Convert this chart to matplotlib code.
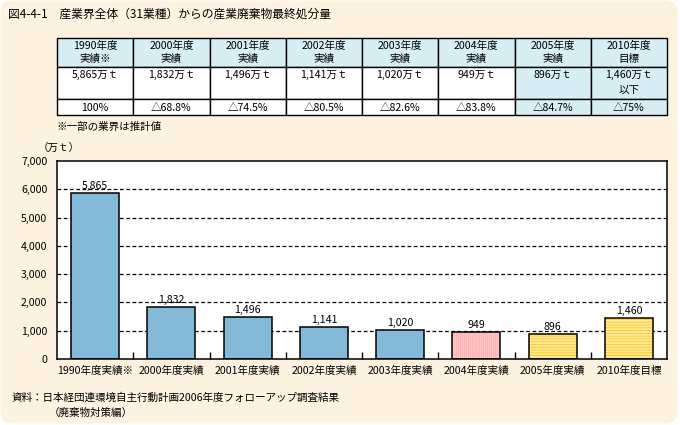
import matplotlib
matplotlib.use("Agg")
import matplotlib.pyplot as plt
from matplotlib.patches import FancyBboxPatch, Rectangle
from matplotlib.ticker import FuncFormatter, MultipleLocator

plt.rcParams['font.family'] = ['Noto Sans CJK JP', 'DejaVu Sans']
plt.rcParams['hatch.linewidth'] = 1.3

# ---- data ----
categories = ['1990年度実績※', '2000年度実績', '2001年度実績', '2002年度実績',
              '2003年度実績', '2004年度実績', '2005年度実績', '2010年度目標']
values = [5865, 1832, 1496, 1141, 1020, 949, 896, 1460]
head_year = ['1990年度', '2000年度', '2001年度', '2002年度', '2003年度',
             '2004年度', '2005年度', '2010年度']
head_kind = ['実績※', '実績', '実績', '実績', '実績', '実績', '実績', '目標']
value_suffix = ['', '', '', '', '', '', '', '以下']
pct_labels = ['100%', '△68.8%', '△74.5%', '△80.5%', '△82.6%', '△83.8%', '△84.7%', '△75%']
styles = ['blue', 'blue', 'blue', 'blue', 'blue', 'pink', 'yellow', 'yellow']

W, H = 680, 425
fig = plt.figure(figsize=(W / 100, H / 100), dpi=100)
fig.patch.set_facecolor('white')

# background axes in pixel coordinates (y downward)
bg = fig.add_axes([0, 0, 1, 1])
bg.set_xlim(0, W)
bg.set_ylim(H, 0)
bg.axis('off')
bg.add_patch(FancyBboxPatch((0.5, 0.5), W - 3, H - 2,
                            boxstyle="round,pad=0,rounding_size=12",
                            facecolor='#FDF1E0', edgecolor='none'))

TXT = 7.6
bg.text(8, 14, '図4-4-1　産業界全体（31業種）からの産業廃棄物最終処分量',
        fontsize=8.5, va='center', ha='left')

# ---- table ----
tx0, tx1 = 57, 667
ty = [38, 67, 99, 115]
cw = (tx1 - tx0) / len(head_year)
for i in range(len(head_year)):
    x = tx0 + i * cw
    hl = i >= 6
    bg.add_patch(Rectangle((x, ty[0]), cw, ty[1] - ty[0], facecolor='#D8EEF5', edgecolor='black', lw=1))
    for r in (1, 2):
        bg.add_patch(Rectangle((x, ty[r]), cw, ty[r + 1] - ty[r],
                               facecolor='#D8EEF5' if hl else 'white', edgecolor='black', lw=1))
    cx = x + cw / 2
    bg.text(cx, 46, head_year[i], fontsize=TXT, ha='center', va='center')
    bg.text(cx, 59, head_kind[i], fontsize=TXT, ha='center', va='center')
    bg.text(cx, 75, f'{values[i]:,}万ｔ', fontsize=TXT, ha='center', va='center')
    if value_suffix[i]:
        bg.text(cx, 90, value_suffix[i], fontsize=TXT, ha='center', va='center')
    bg.text(cx, 107.5, pct_labels[i], fontsize=TXT, ha='center', va='center')

bg.text(57, 127, '※一部の業界は推計値', fontsize=TXT, ha='left', va='center')
bg.text(38, 148, '（万ｔ）', fontsize=TXT, ha='left', va='center')
bg.text(12, 398, '資料：日本経団連環境自主行動計画2006年度フォローアップ調査結果',
        fontsize=TXT, ha='left', va='center')
bg.text(49, 413, '（廃棄物対策編）', fontsize=TXT, ha='left', va='center')

# ---- chart ----
ax = fig.add_axes([57 / W, 1 - 359 / H, (667 - 57) / W, (359 - 161) / H])
ax.set_facecolor('white')
xs = list(range(len(values)))
bw = 0.63
face = {'blue': '#82BAD8', 'pink': '#FF8A8A', 'yellow': '#FFCA30'}
hatch = {'blue': None, 'pink': '|' * 8, 'yellow': '-' * 6}
hcol = {'blue': 'none', 'pink': '#FFC4C4', 'yellow': '#FFEC9A'}
for x, v, s in zip(xs, values, styles):
    ax.bar(x, v, width=bw, color=face[s], edgecolor=hcol[s], hatch=hatch[s], lw=0, zorder=2)
    ax.bar(x, v, width=bw, fill=False, edgecolor='black', lw=1.1, zorder=3)
    ax.text(x, v + 60, f'{v:,}', ha='center', va='bottom', fontsize=TXT, zorder=4)

ax.set_xlim(-0.5, len(values) - 0.5)
ax.set_ylim(0, 7000)
ax.yaxis.set_major_locator(MultipleLocator(1000))
ax.yaxis.set_major_formatter(FuncFormatter(lambda v, p: f'{int(v):,}'))
ax.tick_params(axis='y', length=0, labelsize=TXT, pad=7)
ax.set_xticks(xs)
ax.set_xticklabels(categories, fontsize=TXT)
ax.tick_params(axis='x', length=0, pad=5)
# minor ticks between categories
ax.set_xticks([i + 0.5 for i in xs[:-1]], minor=True)
ax.tick_params(axis='x', which='minor', direction='in', length=5, width=1)
for yv in range(1000, 7000, 1000):
    ax.axhline(yv, color='black', lw=0.9, ls=(0, (3, 2)), zorder=1)
for sp in ax.spines.values():
    sp.set_linewidth(1.1)

fig.savefig('out.png', dpi=100, facecolor=fig.get_facecolor())
